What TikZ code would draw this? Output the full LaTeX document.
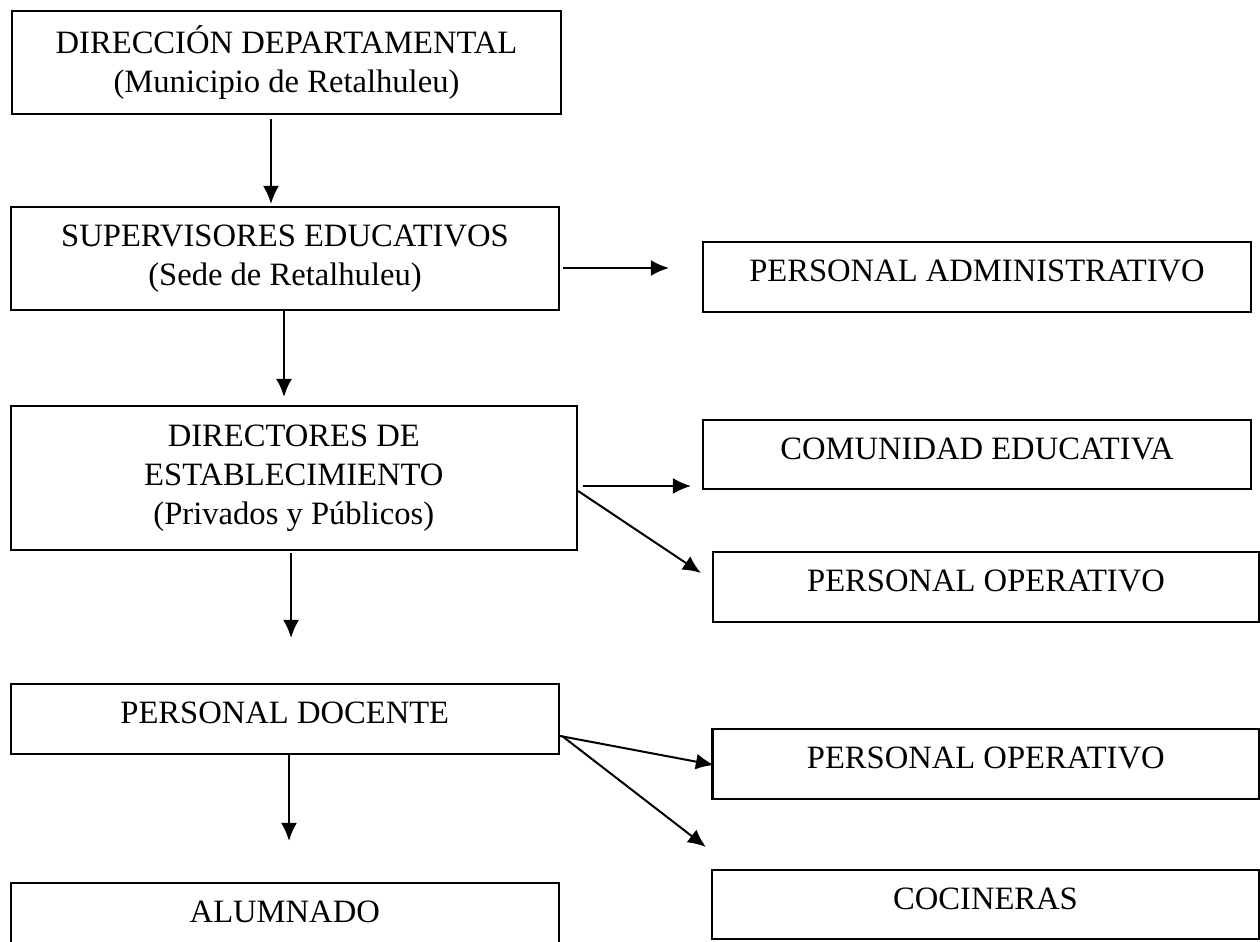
\documentclass[tikz,border=0pt]{standalone}
\usepackage{fontspec}
\setmainfont{Liberation Serif}
\usetikzlibrary{arrows.meta}

\begin{document}
\begin{tikzpicture}[x=0.5pt,y=-0.5pt,
    caja/.style={draw,line width=1.1pt,inner sep=0pt,minimum height=35pt,text height=12pt,text depth=7.5pt,font=\fontsize{16.3}{19.5}\selectfont},
    bloque/.style={draw,line width=1.1pt,inner sep=0pt,align=center,font=\fontsize{16.3}{19.5}\selectfont},
    flecha/.style={-{Latex[length=9pt,width=8pt]},line width=1pt}]
                    \useasboundingbox (0,0) rectangle (1260,942);

                    \node[bloque,minimum width=274.5pt,minimum height=51.5pt] (direccion) at (286.5,62.5) {DIRECCIÓN DEPARTAMENTAL\\(Municipio de Retalhuleu)};
                    \node[bloque,minimum width=274pt,minimum height=51.5pt] (supervisores) at (285,258.5) {SUPERVISORES EDUCATIVOS\\(Sede de Retalhuleu)};
                    \node[bloque,minimum width=283.2pt,minimum height=72pt] (directores) at (293.85,478) {DIRECTORES DE\\ESTABLECIMIENTO\\(Privados y Públicos)};
                    \node[caja,minimum width=274.2pt] (docente) at (284.8,719) {PERSONAL DOCENTE};
                    \node[caja,minimum width=274.2pt] (alumnado) at (284.8,918) {ALUMNADO};

                    \node[caja,minimum width=274pt] (administrativo) at (977,277) {PERSONAL ADMINISTRATIVO};
                    \node[caja,minimum width=274pt,minimum height=34.5pt] (comunidad) at (977,454.5) {COMUNIDAD EDUCATIVA};
                    \node[caja,minimum width=273pt] (operativoA) at (986,587) {PERSONAL OPERATIVO};
                    \node[caja,minimum width=273.25pt] (operativoB) at (985.75,764) {PERSONAL OPERATIVO};
                    \node[caja,minimum width=273.5pt,minimum height=34.5pt] (cocineras) at (985.5,904.5) {COCINERAS};

                    \draw[flecha] ([xshift=-7.75pt,yshift=-2pt]direccion.south) -- ([xshift=-7.75pt,yshift=1pt]direccion.south |- supervisores.north);
                    \draw[flecha] ([xshift=-0.5pt]supervisores.south) -- ([xshift=-0.5pt,yshift=4pt]supervisores.south |- directores.north);
                    \draw[flecha] ([xshift=-1.4pt,yshift=-1pt]directores.south) -- ([xshift=-1.4pt,yshift=22.5pt]directores.south |- docente.north);
                    \draw[flecha] ([xshift=2.1pt]docente.south) -- ([xshift=2.1pt,yshift=20.5pt]docente.south |- alumnado.north);

                    \draw[flecha] ([xshift=1.5pt,yshift=-4.75pt]supervisores.east) -- ([xshift=-16.5pt,yshift=-4.75pt]administrativo.west |- supervisores.east);
                    \draw[flecha] ([xshift=2.5pt,yshift=-4pt]directores.east) -- ([xshift=-5.5pt,yshift=-4pt]comunidad.west |- directores.east);
                    \draw[flecha] ([yshift=-6.5pt]directores.east) -- ([xshift=-5.5pt,yshift=7pt]operativoA.west);
                    \draw[flecha] ([yshift=-8.5pt]docente.east) -- ([xshift=1.25pt,yshift=-0.5pt]operativoB.west);
                    \draw[flecha] ([xshift=1pt,yshift=-8.5pt]docente.east) -- ([xshift=-2.5pt,yshift=28.75pt]cocineras.west);
                    \end{tikzpicture}
\end{document}
